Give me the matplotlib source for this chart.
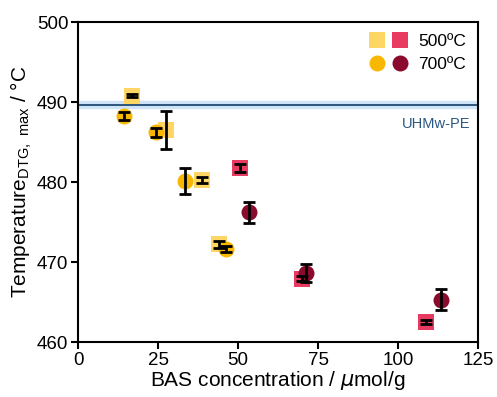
import matplotlib
matplotlib.use("Agg")
import matplotlib.pyplot as plt
from matplotlib.legend_handler import HandlerTuple

plt.rcParams['font.family'] = ['Liberation Sans', 'DejaVu Sans']
plt.rcParams['mathtext.fontset'] = 'custom'
plt.rcParams['mathtext.rm'] = 'Liberation Sans'

# zeolite samples, 500 C treatment (squares)
x500_a = [16.8, 27.6, 38.6, 44.1]
y500_a = [490.8, 486.5, 480.25, 472.2]
e500_a = [0.15, 2.4, 0.4, 0.4]
x500_b = [50.6, 70.1, 108.6]
y500_b = [481.7, 467.9, 462.5]
e500_b = [0.5, 0.3, 0.3]

# 700 C treatment (circles)
x700_a = [14.5, 24.4, 33.4, 46.3]
y700_a = [488.2, 486.2, 480.1, 471.6]
e700_a = [0.5, 0.6, 1.6, 0.4]
x700_b = [53.4, 71.2, 113.4]
y700_b = [476.2, 468.6, 465.3]
e700_b = [1.3, 1.1, 1.3]

uhmwpe = 489.6

c_lsq = '#FDD663'
c_pink = '#E93A62'
c_orange = '#F8B700'
c_dark = '#8A0B2D'

fig = plt.figure(figsize=(4.97, 3.97), dpi=100)
ax = fig.add_axes([0.157, 0.1385, 0.805, 0.806])

ax.axhline(uhmwpe, color='#CFE3F6', lw=6, zorder=1)
ax.axhline(uhmwpe, color='#1F4A72', lw=1.3, zorder=2)
ax.text(122.5, uhmwpe - 2.3, 'UHMw-PE', color='#2A5783', fontsize=10.5,
        ha='right', va='center')

ms = 11.5
sq1, = ax.plot(x500_a, y500_a, 's', color=c_lsq, ms=ms, mew=0, ls='none', zorder=3)
sq2, = ax.plot(x500_b, y500_b, 's', color=c_pink, ms=ms, mew=0, ls='none', zorder=3)
ci1, = ax.plot(x700_a, y700_a, 'o', color=c_orange, ms=ms, mew=0, ls='none', zorder=4)
ci2, = ax.plot(x700_b, y700_b, 'o', color=c_dark, ms=ms, mew=0, ls='none', zorder=4)

for xs, ys, es in [(x500_a, y500_a, e500_a), (x500_b, y500_b, e500_b),
                   (x700_a, y700_a, e700_a), (x700_b, y700_b, e700_b)]:
    ax.errorbar(xs, ys, yerr=es, fmt='none', ecolor='black', elinewidth=2,
                capsize=4.5, capthick=2, zorder=5)

ax.legend([(sq1, sq2), (ci1, ci2)], ['500ºC', '700ºC'],
          handler_map={tuple: HandlerTuple(ndivide=None, pad=0.4)},
          loc='upper right', frameon=False, fontsize=12.5, handlelength=2.2,
          handletextpad=0.6, labelspacing=0.45, borderaxespad=0.3)

ax.set_xlim(0, 125)
ax.set_ylim(460, 500)
ax.set_xticks([0, 25, 50, 75, 100, 125])
ax.set_yticks([460, 470, 480, 490, 500])
ax.tick_params(labelsize=13.5, width=1.5, length=5, direction='out', pad=2)
for s in ax.spines.values():
    s.set_linewidth(1.5)

ax.set_xlabel('BAS concentration / $\\mu$mol/g', fontsize=15, labelpad=0)
ax.set_ylabel('Temperature$_{\\mathrm{DTG,\\ max}}$ / °C', fontsize=15, labelpad=2)

fig.savefig('out.png', dpi=100)
